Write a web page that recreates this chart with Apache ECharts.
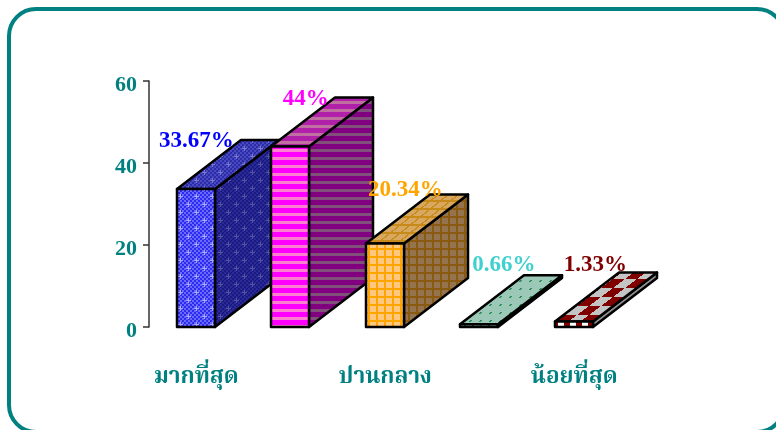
<!DOCTYPE html>
<html><head><meta charset="utf-8">
<style>html,body{margin:0;padding:0;background:#fff;overflow:hidden}#c{width:776px;height:430px}</style>
<script src="https://cdn.jsdelivr.net/npm/echarts@6/dist/echarts.min.js"></script>
</head><body><div id="c"></div>
<script>
const tickCategories = ['มากที่สุด', '', 'ปานกลาง', '', 'น้อยที่สุด'];
const values = [33.67, 44, 20.34, 0.66, 1.33];
const labels = ['33.67%', '44%', '20.34%', '0.66%', '1.33%'];
const labelColors = ['#0000ff', '#ff00ff', '#ffa500', '#40d0d0', '#800000'];
const labelOffsets = [[0, -48], [15, -48], [20, -54], [24, -59], [21, -56]];
const TEAL = '#008080', SERIF = '"Liberation Serif","Noto Serif Thai","Noto Sans",serif';
const DX = 64, DY = 49;

function tile(w, h, fn) {
  const c = document.createElement('canvas'); c.width = w; c.height = h;
  const g = c.getContext('2d');
  for (let y = 0; y < h; y++) for (let x = 0; x < w; x++) { g.fillStyle = fn(x, y); g.fillRect(x, y, 1, 1); }
  return { image: c, repeat: 'repeat' };
}
const plusAt = (x, y) => {
  const m = (a, n) => ((a % n) + n) % n;
  const test = (cx, cy) => { const a = m(x - cx, 16), b = m(y - cy, 16); const ax = a > 8 ? a - 16 : a, ay = b > 8 ? b - 16 : b; return (ax === 0 && Math.abs(ay) <= 2) || (ay === 0 && Math.abs(ax) <= 2); };
  return test(4, 4) || test(12, 12);
};
const dots = (a, b, spot) => (x, y) => plusAt(x, y) ? spot : ((((x >> 1) + (y >> 1)) % 2) ? a : b);
const stripes = (a, b) => (x, y) => (y % 8 < 5 ? a : b);
const grid = (line, cell) => (x, y) => ((x % 8 < 2 || y % 8 < 2) ? line : cell);
const shearGrid = (line, cell) => (x, y) => { const u = (x + Math.round(y * 1.25)) % 10; return (u < 2 || y % 8 < 2) ? line : cell; };
const shearChecker = (a, b) => (x, y) => { const u = Math.floor(((x + y * 24 / 18) % 24) / 12); const v = Math.floor(y / 9); return ((u + v) % 2) ? a : b; };
const shearDots = (bg, dot) => (x, y) => { const u = (x + Math.round(y * 1.25)) % 10, v = y % 8; return (v < 2 && u < 2) ? dot : bg; };

const faces = [
  { front: tile(16, 16, dots('#2c2cf0', '#6a6aff', '#a8a8ff')), side: tile(16, 16, dots('#1a1a80', '#2a2a98', '#55559f')), top: tile(16, 16, dots('#2c2ca8', '#4a4ac0', '#7a7ac8')) },
  { front: tile(8, 8, stripes('#ff00ff', '#ff80d0')), side: tile(8, 8, stripes('#800080', '#80507a')), top: tile(8, 8, stripes('#b020a8', '#c070a0')) },
  { front: tile(8, 8, grid('#ffa500', '#ffc880')), side: tile(8, 8, grid('#8a5a10', '#94744f')), top: tile(10, 8, shearGrid('#c88a18', '#d8a860')) },
  { front: tile(8, 8, (x, y) => (x % 8 < 2 && y % 4 < 2) ? '#2e8b57' : '#e4fff4'), side: '#7f9a90', top: tile(10, 8, shearDots('#9cc8b8', '#2e8b57')) },
  { front: tile(12, 8, (x, y) => (x % 12 < 6) ? '#800000' : '#ffffff'), side: '#909090', top: tile(24, 18, shearChecker('#800000', '#c4c4c4')) }
];

const chart = echarts.init(document.getElementById('c'), null, { renderer: 'canvas' });
chart.setOption({
  animation: false,
  backgroundColor: '#fff',
  graphic: [{ type: 'rect', z: -10, shape: { x: 9, y: 9, width: 775, height: 423, r: 27 }, style: { fill: '#fff', stroke: TEAL, lineWidth: 4 } }],
  grid: { left: 149, top: 81, width: 472.5, height: 246 },
  xAxis: { type: 'category', data: tickCategories, axisLine: { show: false }, axisTick: { show: false },
    axisLabel: { interval: 0, color: TEAL, fontFamily: SERIF, fontWeight: 'bold', fontSize: 22.5, margin: 39 } },
  yAxis: { type: 'value', min: 0, max: 60, interval: 20, splitLine: { show: false },
    axisLine: { show: true, lineStyle: { color: '#333', width: 1.5 } },
    axisTick: { show: true, length: 6, lineStyle: { color: '#333', width: 1.5 } },
    axisLabel: { color: TEAL, fontFamily: SERIF, fontWeight: 'bold', fontSize: 22, margin: 12, verticalAlign: 'top', lineHeight: 8 } },
  series: [
    { type: 'custom', clip: false, z: 3, data: values.map((v, i) => [i, v]),
      renderItem(p, api) {
        const i = api.value(0), a = api.coord([i, api.value(1)]), b = api.coord([i, 0]);
        const w = api.size([1, 0])[0] * 0.4, l = Math.floor(a[0] - w / 2), r = l + Math.round(w), t = a[1], y0 = b[1];
        const stroke = { stroke: '#000', lineWidth: 2.5, lineJoin: 'round' }, f = faces[i];
        return { type: 'group', children: [
          { type: 'polygon', shape: { points: [[r, t], [r + DX, t - DY], [r + DX, y0 - DY], [r, y0]] }, style: { fill: f.side, ...stroke } },
          { type: 'polygon', shape: { points: [[l, t], [l + DX, t - DY], [r + DX, t - DY], [r, t]] }, style: { fill: f.top, ...stroke } },
          { type: 'rect', shape: { x: l, y: t, width: r - l, height: y0 - t }, style: { fill: f.front, ...stroke } }
        ] };
      } },
    { type: 'custom', clip: false, z: 5, silent: true, data: values.map((v, i) => [i, v]),
      renderItem(p, api) {
        const i = api.value(0), a = api.coord([i, api.value(1)]);
        return { type: 'text', style: { text: labels[i], x: a[0] + labelOffsets[i][0], y: a[1] + labelOffsets[i][1], align: 'center', verticalAlign: 'middle',
          fill: labelColors[i], font: 'bold 23px ' + SERIF } };
      } }
  ]
});
</script></body></html>
